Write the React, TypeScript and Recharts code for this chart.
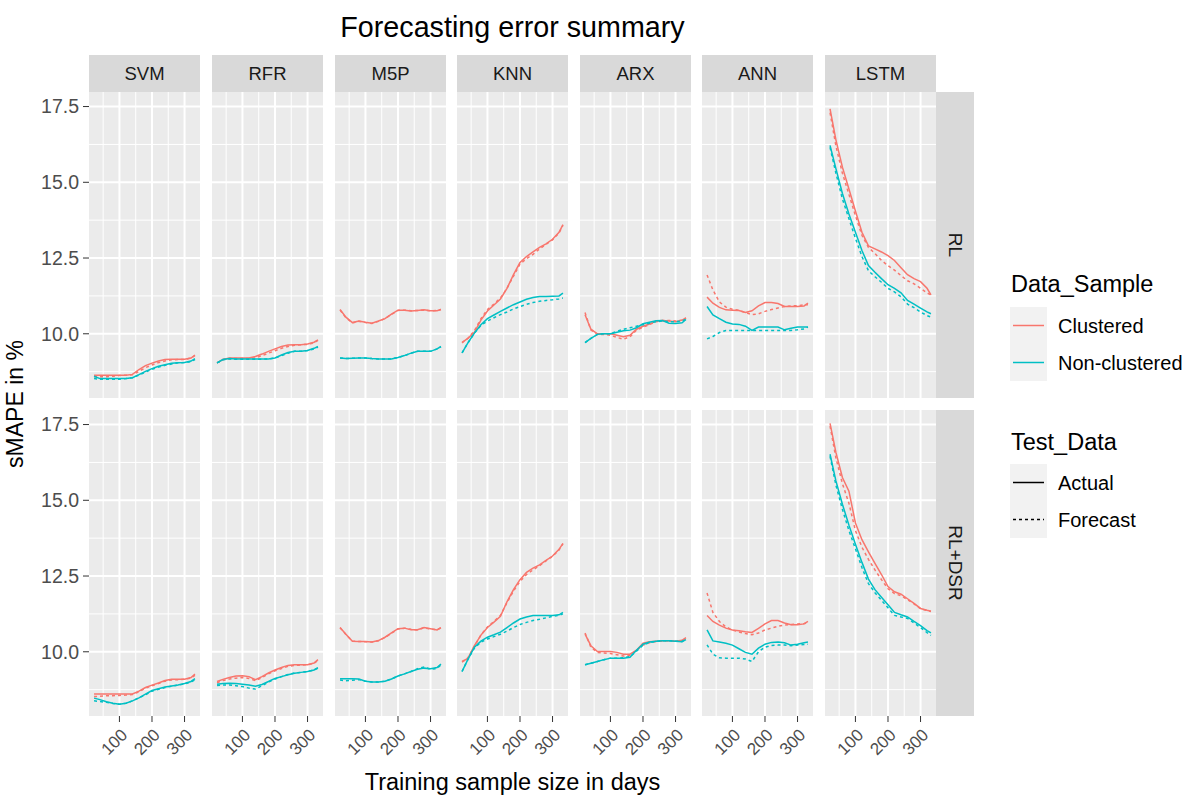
import React from "react"
import { CartesianGrid, Line, LineChart, XAxis, YAxis } from "recharts"

const trainingDays = [22, 40, 60, 80, 100, 120, 140, 160, 180, 200, 220, 240, 260, 280, 300, 320, 332]
const models = ["SVM", "RFR", "M5P", "KNN", "ARX", "ANN", "LSTM"]
const methods = ["RL", "RL+DSR"]
const xTicks = [100, 200, 300]
const xMinorTicks = [50, 150, 250]
const yTicks = [10, 12.5, 15, 17.5]
const yMinorTicks = [8.75, 11.25, 13.75, 16.25]

// rows: clustered actual, clustered forecast, non-clustered actual, non-clustered forecast
const svmRl = [
    [8.63, 8.63, 8.63, 8.63, 8.63, 8.63, 8.66, 8.82, 8.95, 9.03, 9.1, 9.15, 9.16, 9.16, 9.16, 9.2, 9.3],
    [8.58, 8.58, 8.58, 8.6, 8.62, 8.63, 8.65, 8.76, 8.88, 8.97, 9.05, 9.1, 9.14, 9.15, 9.15, 9.2, 9.28],
    [8.6, 8.52, 8.52, 8.52, 8.52, 8.52, 8.55, 8.65, 8.76, 8.85, 8.93, 8.98, 9.03, 9.04, 9.05, 9.1, 9.18],
    [8.52, 8.5, 8.5, 8.5, 8.5, 8.52, 8.55, 8.64, 8.73, 8.83, 8.9, 8.96, 9.0, 9.04, 9.05, 9.08, 9.15],
]
const rfrRl = [
    [9.04, 9.15, 9.2, 9.2, 9.2, 9.2, 9.25, 9.33, 9.42, 9.5, 9.58, 9.63, 9.64, 9.64, 9.66, 9.72, 9.8],
    [9.04, 9.15, 9.18, 9.18, 9.18, 9.18, 9.2, 9.28, 9.36, 9.44, 9.52, 9.58, 9.62, 9.64, 9.65, 9.7, 9.78],
    [9.04, 9.15, 9.18, 9.17, 9.17, 9.17, 9.17, 9.17, 9.17, 9.2, 9.3, 9.38, 9.42, 9.42, 9.45, 9.52, 9.58],
    [9.04, 9.14, 9.17, 9.16, 9.16, 9.16, 9.16, 9.16, 9.17, 9.2, 9.28, 9.36, 9.42, 9.42, 9.45, 9.5, 9.56],
]
const m5pRl = [
    [10.8, 10.55, 10.37, 10.42, 10.38, 10.35, 10.42, 10.5, 10.65, 10.78, 10.78, 10.75, 10.77, 10.79, 10.76, 10.76, 10.8],
    [10.78, 10.53, 10.36, 10.41, 10.37, 10.34, 10.41, 10.5, 10.64, 10.77, 10.78, 10.76, 10.77, 10.78, 10.76, 10.77, 10.8],
    [9.2, 9.18, 9.19, 9.2, 9.2, 9.18, 9.17, 9.17, 9.17, 9.22, 9.28, 9.36, 9.42, 9.42, 9.42, 9.5, 9.58],
    [9.2, 9.18, 9.19, 9.2, 9.2, 9.18, 9.17, 9.17, 9.17, 9.22, 9.28, 9.36, 9.42, 9.42, 9.42, 9.5, 9.57],
]
const knnRl = [
    [9.72, 9.85, 10.05, 10.45, 10.75, 10.95, 11.15, 11.5, 11.95, 12.35, 12.55, 12.7, 12.85, 12.97, 13.12, 13.35, 13.6],
    [9.7, 9.85, 10.1, 10.5, 10.8, 10.98, 11.18, 11.5, 11.9, 12.3, 12.48, 12.62, 12.8, 12.95, 13.1, 13.33, 13.58],
    [9.37, 9.7, 10.02, 10.3, 10.5, 10.62, 10.74, 10.85, 10.96, 11.05, 11.14, 11.2, 11.23, 11.23, 11.24, 11.25, 11.34],
    [9.37, 9.7, 10.02, 10.28, 10.42, 10.53, 10.63, 10.72, 10.82, 10.9, 10.97, 11.03, 11.07, 11.1, 11.12, 11.15, 11.18],
]
const arxRl = [
    [10.63, 10.15, 10.0, 10.0, 10.0, 9.95, 9.9, 9.95, 10.15, 10.25, 10.32, 10.42, 10.44, 10.42, 10.4, 10.45, 10.52],
    [10.7, 10.12, 9.98, 9.98, 9.95, 9.88, 9.82, 9.9, 10.12, 10.22, 10.3, 10.4, 10.44, 10.44, 10.42, 10.45, 10.52],
    [9.71, 9.85, 9.98, 10.0, 10.0, 10.05, 10.1, 10.12, 10.2, 10.33, 10.38, 10.43, 10.44, 10.35, 10.34, 10.36, 10.47],
    [9.71, 9.85, 9.98, 10.0, 10.0, 10.08, 10.15, 10.2, 10.25, 10.3, 10.35, 10.4, 10.42, 10.4, 10.4, 10.42, 10.48],
]
const annRl = [
    [11.21, 11.01, 10.87, 10.79, 10.78, 10.77, 10.7, 10.76, 10.92, 11.03, 11.03, 11.0, 10.9, 10.9, 10.9, 10.92, 11.01],
    [11.94, 11.45, 11.05, 10.88, 10.81, 10.77, 10.7, 10.63, 10.66, 10.74, 10.8, 10.85, 10.9, 10.92, 10.93, 10.95, 10.96],
    [10.9, 10.62, 10.5, 10.38, 10.32, 10.31, 10.25, 10.11, 10.22, 10.22, 10.22, 10.22, 10.13, 10.18, 10.22, 10.22, 10.22],
    [9.83, 9.91, 10.04, 10.11, 10.11, 10.11, 10.11, 10.11, 10.11, 10.11, 10.11, 10.11, 10.11, 10.11, 10.13, 10.16, 10.22],
]
const lstmRl = [
    [17.42, 16.4, 15.5, 14.78, 14.05, 13.35, 12.9, 12.8, 12.7, 12.58, 12.42, 12.18, 11.95, 11.82, 11.72, 11.5, 11.28],
    [17.3, 16.2, 15.3, 14.6, 13.9, 13.25, 12.85, 12.65, 12.42, 12.25, 12.1, 11.92, 11.75, 11.65, 11.5, 11.35, 11.28],
    [16.22, 15.45, 14.63, 13.95, 13.35, 12.75, 12.25, 12.03, 11.82, 11.62, 11.5, 11.35, 11.1, 10.98, 10.85, 10.72, 10.66],
    [16.15, 15.3, 14.45, 13.8, 13.15, 12.55, 12.08, 11.88, 11.7, 11.5, 11.38, 11.22, 10.98, 10.86, 10.72, 10.6, 10.55],
]

const svmDsr = [
    [8.61, 8.61, 8.61, 8.61, 8.61, 8.61, 8.61, 8.7, 8.82, 8.9, 8.97, 9.05, 9.09, 9.09, 9.09, 9.15, 9.26],
    [8.52, 8.53, 8.55, 8.55, 8.56, 8.57, 8.59, 8.68, 8.8, 8.88, 8.95, 9.03, 9.07, 9.08, 9.09, 9.13, 9.22],
    [8.47, 8.42, 8.35, 8.3, 8.27, 8.3, 8.38, 8.48, 8.6, 8.72, 8.78, 8.84, 8.87, 8.9, 8.95, 9.02, 9.11],
    [8.38, 8.36, 8.33, 8.29, 8.27, 8.3, 8.38, 8.48, 8.58, 8.7, 8.76, 8.82, 8.86, 8.9, 8.94, 9.0, 9.08],
]
const rfrDsr = [
    [9.02, 9.09, 9.15, 9.2, 9.21, 9.18, 9.08, 9.18, 9.3, 9.4, 9.48, 9.55, 9.57, 9.57, 9.57, 9.63, 9.74],
    [8.98, 9.05, 9.1, 9.13, 9.15, 9.12, 9.05, 9.15, 9.27, 9.37, 9.45, 9.52, 9.55, 9.56, 9.57, 9.62, 9.72],
    [8.93, 8.95, 8.96, 8.95, 8.93, 8.9, 8.86, 8.92, 9.02, 9.12, 9.18, 9.24, 9.29, 9.32, 9.35, 9.4, 9.48],
    [8.89, 8.9, 8.9, 8.88, 8.85, 8.8, 8.77, 8.88, 9.0, 9.1, 9.18, 9.25, 9.3, 9.32, 9.35, 9.4, 9.46],
]
const m5pDsr = [
    [10.8, 10.58, 10.35, 10.34, 10.34, 10.32, 10.37, 10.48, 10.62, 10.76, 10.78, 10.73, 10.73, 10.8, 10.76, 10.72, 10.8],
    [10.79, 10.57, 10.35, 10.34, 10.33, 10.32, 10.36, 10.47, 10.61, 10.75, 10.78, 10.74, 10.72, 10.79, 10.75, 10.73, 10.79],
    [9.11, 9.11, 9.11, 9.1, 9.03, 9.0, 9.0, 9.03, 9.1, 9.2, 9.27, 9.35, 9.42, 9.46, 9.44, 9.48, 9.59],
    [9.07, 9.04, 9.06, 9.08, 9.03, 9.0, 9.0, 9.03, 9.1, 9.2, 9.27, 9.35, 9.44, 9.5, 9.42, 9.45, 9.57],
]
const knnDsr = [
    [9.68, 9.78, 10.2, 10.55, 10.8, 10.98, 11.17, 11.65, 12.05, 12.38, 12.62, 12.76, 12.87, 13.02, 13.16, 13.38, 13.58],
    [9.66, 9.8, 10.18, 10.55, 10.82, 11.0, 11.2, 11.62, 12.0, 12.32, 12.55, 12.7, 12.84, 13.0, 13.15, 13.36, 13.56],
    [9.35, 9.75, 10.15, 10.35, 10.48, 10.56, 10.65, 10.8, 10.95, 11.08, 11.15, 11.2, 11.2, 11.2, 11.2, 11.22, 11.3],
    [9.35, 9.75, 10.12, 10.32, 10.42, 10.5, 10.58, 10.68, 10.8, 10.9, 10.97, 11.03, 11.07, 11.12, 11.17, 11.2, 11.25],
]
const arxDsr = [
    [10.58, 10.2, 10.01, 10.01, 10.01, 9.98, 9.92, 9.92, 10.05, 10.28, 10.33, 10.35, 10.36, 10.36, 10.35, 10.38, 10.47],
    [10.62, 10.15, 9.98, 9.96, 9.94, 9.9, 9.86, 9.88, 10.05, 10.22, 10.3, 10.34, 10.36, 10.36, 10.34, 10.36, 10.45],
    [9.57, 9.62, 9.68, 9.74, 9.79, 9.79, 9.79, 9.82, 10.05, 10.25, 10.32, 10.35, 10.36, 10.36, 10.35, 10.33, 10.4],
    [9.57, 9.62, 9.68, 9.74, 9.79, 9.79, 9.8, 9.84, 10.02, 10.22, 10.3, 10.34, 10.36, 10.36, 10.35, 10.34, 10.42],
]
const annDsr = [
    [11.2, 11.0, 10.88, 10.78, 10.72, 10.69, 10.66, 10.64, 10.77, 10.92, 11.03, 11.03, 10.95, 10.89, 10.89, 10.92, 11.0],
    [11.94, 11.3, 11.0, 10.82, 10.72, 10.65, 10.6, 10.56, 10.62, 10.72, 10.78, 10.84, 10.88, 10.9, 10.92, 10.93, 10.95],
    [10.72, 10.36, 10.32, 10.28, 10.22, 10.1, 9.98, 9.92, 10.12, 10.25, 10.31, 10.32, 10.3, 10.22, 10.25, 10.3, 10.32],
    [10.23, 9.92, 9.8, 9.79, 9.79, 9.79, 9.76, 9.68, 10.0, 10.15, 10.21, 10.22, 10.22, 10.2, 10.22, 10.24, 10.25],
]
const lstmDsr = [
    [17.54, 16.58, 15.75, 15.3, 14.25, 13.7, 13.3, 12.92, 12.55, 12.15, 11.98, 11.9, 11.75, 11.6, 11.43, 11.37, 11.34],
    [17.45, 16.4, 15.55, 14.9, 14.0, 13.45, 13.05, 12.7, 12.38, 12.08, 11.92, 11.85, 11.72, 11.58, 11.42, 11.36, 11.33],
    [16.52, 15.64, 14.87, 14.18, 13.55, 12.95, 12.4, 12.05, 11.8, 11.55, 11.3, 11.22, 11.15, 11.0, 10.86, 10.7, 10.62],
    [16.45, 15.5, 14.7, 14.0, 13.4, 12.78, 12.25, 11.95, 11.7, 11.45, 11.2, 11.15, 11.1, 10.95, 10.8, 10.63, 10.54],
]

const panelValues = [
    [svmRl, rfrRl, m5pRl, knnRl, arxRl, annRl, lstmRl],
    [svmDsr, rfrDsr, m5pDsr, knnDsr, arxDsr, annDsr, lstmDsr],
]

const RED = "#F8766D"
const TEAL = "#00BFC4"
const series = [
    { key: "clusteredActual", color: RED, dash: undefined },
    { key: "clusteredForecast", color: RED, dash: "3 3" },
    { key: "nonClusteredActual", color: TEAL, dash: undefined },
    { key: "nonClusteredForecast", color: TEAL, dash: "3 3" },
]

// facet geometry
const PANEL_W = 111
const PANEL_H = 306
const COL_LEFT = [89, 212, 335, 457, 580, 702, 825]
const ROW_TOP = [92, 410]
const Y_AXIS_W = 89
const X_AXIS_H = 70
const STRIP_H = 37
const STRIP_W = 38

const xPad = (trainingDays[trainingDays.length - 1] - trainingDays[0]) * 0.05
const xDomain = [trainingDays[0] - xPad, trainingDays[trainingDays.length - 1] + xPad]
const yDomain = [7.88, 17.98]

const FONT = "'Liberation Sans', Arial, sans-serif"

const SlantedTick = ({ x, y, payload }: any) => (
    <g transform={`translate(${x + 9},${y + 12}) rotate(-45)`}>
        <text textAnchor="end" fill="#4D4D4D" fontSize={17} fontFamily={FONT}>
            {payload.value}
        </text>
    </g>
)

const Panel = ({ row, col }: { row: number; col: number }) => {
    const values = panelValues[row][col]
    const data = trainingDays.map((days, i) => {
        const point: { [key: string]: number } = { days }
        series.forEach((s, k) => {
            point[s.key] = values[k][i]
        })
        return point
    })
    const showY = col === 0
    const showX = row === methods.length - 1
    const width = PANEL_W + (showY ? Y_AXIS_W : 0)
    const height = PANEL_H + (showX ? X_AXIS_H : 0)

    return (
        <div style={{ position: "absolute", left: COL_LEFT[col] - (showY ? Y_AXIS_W : 0), top: ROW_TOP[row] }}>
            <LineChart width={width} height={height} data={data} margin={{ top: 0, right: 0, bottom: 0, left: 0 }}>
                <XAxis
                    type="number"
                    dataKey="days"
                    domain={xDomain}
                    allowDataOverflow
                    ticks={xTicks}
                    interval={0}
                    hide={!showX}
                    height={X_AXIS_H}
                    axisLine={false}
                    tickLine={{ stroke: "#333333" }}
                    tickSize={6}
                    tick={<SlantedTick />}
                />
                <YAxis
                    type="number"
                    domain={yDomain}
                    allowDataOverflow
                    ticks={yTicks}
                    interval={0}
                    hide={!showY}
                    width={Y_AXIS_W}
                    axisLine={false}
                    tickLine={{ stroke: "#333333" }}
                    tickSize={6}
                    tickMargin={4}
                    tickFormatter={(v: number) => v.toFixed(1)}
                    tick={{ fill: "#4D4D4D", fontSize: 19.5, fontFamily: FONT }}
                />
                <CartesianGrid
                    fill="#EBEBEB"
                    fillOpacity={1}
                    stroke="#FFFFFF"
                    strokeWidth={1}
                    horizontalValues={yMinorTicks}
                    verticalValues={xMinorTicks}
                />
                <CartesianGrid stroke="#FFFFFF" strokeWidth={2} horizontalValues={yTicks} verticalValues={xTicks} />
                {series.map((s) => (
                    <Line
                        key={s.key}
                        type="linear"
                        dataKey={s.key}
                        stroke={s.color}
                        strokeWidth={1.5}
                        strokeDasharray={s.dash}
                        dot={false}
                        activeDot={false}
                        isAnimationActive={false}
                    />
                ))}
            </LineChart>
        </div>
    )
}

const Decorations = () => {
    const panelsRight = COL_LEFT[COL_LEFT.length - 1] + PANEL_W
    const centerX = (COL_LEFT[0] + panelsRight) / 2
    return (
        <svg width={1192} height={797} style={{ position: "absolute", left: 0, top: 0 }} fontFamily={FONT}>
            <text x={centerX} y={37} textAnchor="middle" fontSize={28.7} fill="#000">
                Forecasting error summary
            </text>

            {models.map((m, c) => (
                <g key={m}>
                    <rect x={COL_LEFT[c]} y={ROW_TOP[0] - STRIP_H} width={PANEL_W} height={STRIP_H} fill="#D9D9D9" />
                    <text
                        x={COL_LEFT[c] + PANEL_W / 2}
                        y={ROW_TOP[0] - STRIP_H / 2}
                        textAnchor="middle"
                        dominantBaseline="central"
                        fontSize={18.5}
                        fill="#1A1A1A"
                    >
                        {m}
                    </text>
                </g>
            ))}

            {methods.map((m, r) => (
                <g key={m}>
                    <rect x={panelsRight} y={ROW_TOP[r]} width={STRIP_W} height={PANEL_H} fill="#D9D9D9" />
                    <text
                        transform={`translate(${panelsRight + STRIP_W / 2},${ROW_TOP[r] + PANEL_H / 2}) rotate(90)`}
                        textAnchor="middle"
                        dominantBaseline="central"
                        fontSize={19}
                        fill="#1A1A1A"
                    >
                        {m}
                    </text>
                </g>
            ))}

            <text x={centerX} y={790} textAnchor="middle" fontSize={23.5} fill="#000">
                Training sample size in days
            </text>
            <text
                transform={`translate(23,${(ROW_TOP[0] + ROW_TOP[1] + PANEL_H) / 2}) rotate(-90)`}
                textAnchor="middle"
                fontSize={23}
                fill="#000"
            >
                sMAPE in %
            </text>

            {/* colour legend */}
            <text x={1011} y={292} fontSize={23.5} fill="#000">
                Data_Sample
            </text>
            <rect x={1010} y={307} width={37} height={74} fill="#F2F2F2" />
            <line x1={1013} x2={1044} y1={325.5} y2={325.5} stroke={RED} strokeWidth={1.5} />
            <line x1={1013} x2={1044} y1={362.5} y2={362.5} stroke={TEAL} strokeWidth={1.5} />
            <text x={1058} y={325.5} dominantBaseline="central" fontSize={20} fill="#000">
                Clustered
            </text>
            <text x={1058} y={362.5} dominantBaseline="central" fontSize={20} fill="#000">
                Non-clustered
            </text>

            {/* linetype legend */}
            <text x={1011} y={450} fontSize={23.5} fill="#000">
                Test_Data
            </text>
            <rect x={1010} y={464} width={37} height={74} fill="#F2F2F2" />
            <line x1={1013} x2={1044} y1={482.5} y2={482.5} stroke="#000" strokeWidth={1.5} />
            <line x1={1013} x2={1044} y1={519.5} y2={519.5} stroke="#000" strokeWidth={1.5} strokeDasharray="3 3" />
            <text x={1058} y={482.5} dominantBaseline="central" fontSize={20} fill="#000">
                Actual
            </text>
            <text x={1058} y={519.5} dominantBaseline="central" fontSize={20} fill="#000">
                Forecast
            </text>
        </svg>
    )
}

export default function App() {
    return (
        <div style={{ position: "relative", width: 1192, height: 797, background: "#FFFFFF", fontFamily: FONT }}>
            <style>{"body{margin:0}"}</style>
            <Decorations />
            {methods.map((_, r) => models.map((_, c) => <Panel key={`${r}-${c}`} row={r} col={c} />))}
        </div>
    )
}
